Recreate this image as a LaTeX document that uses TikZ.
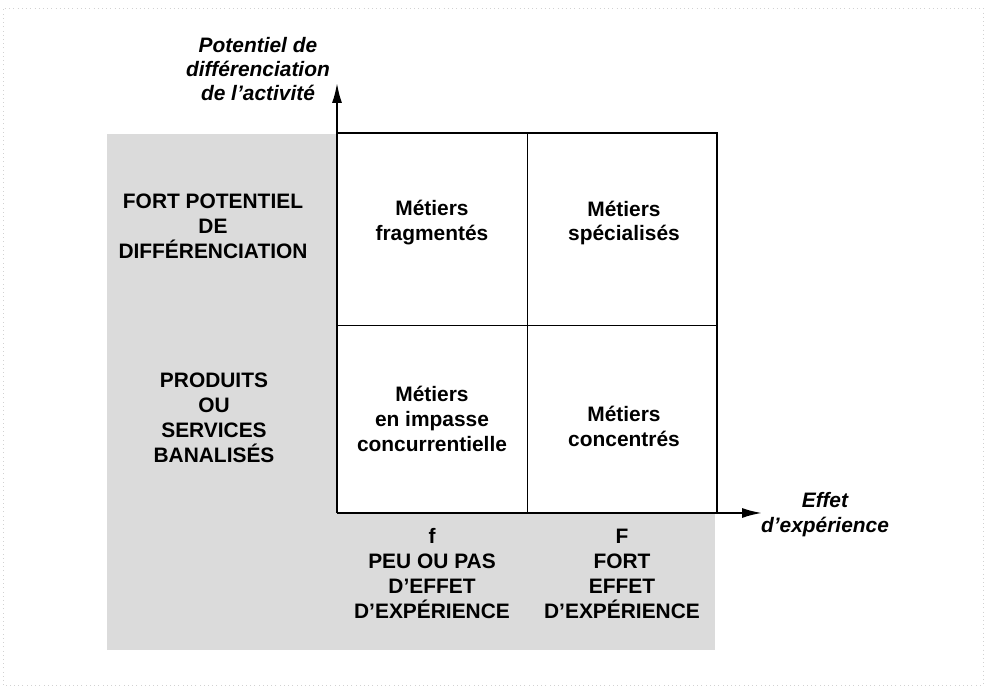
\documentclass[tikz,border=0pt]{standalone}
\usepackage{fontspec}
\setmainfont{Liberation Sans}
\usetikzlibrary{arrows.meta}

\begin{document}
\begin{tikzpicture}[
    txt/.style={font=\fontsize{11.9}{14.2}\selectfont\bfseries, align=center, inner sep=0pt},
    axtxt/.style={font=\fontsize{11.9}{13.8}\selectfont\bfseries\itshape, align=center, inner sep=0pt}
  ]

    \useasboundingbox (0,0) rectangle (19.72,13.72);

    % Faint frame of the scan
    \draw[gray!35, dotted, line width=0.4pt] (0.06,0.02) rectangle (19.66,13.56);

    % Define the corners of the grid
    \coordinate (O) at (6.74,3.46);
    \coordinate (M) at (10.54,7.22);
    \coordinate (T) at (14.34,11.06);
    \coordinate (Ytip) at (6.74,12.06);
    \coordinate (Xtip) at (15.24,3.46);

    % Draw the shaded band
    \fill[black!14] (2.14,0.72) rectangle (14.30,11.04);

    % Draw the white grid
    \fill[white] (O) rectangle (T);
    \draw[line width=0.5pt] (O -| M) -- (T -| M);
    \draw[line width=0.5pt] (O |- M) -- (T |- M);
    \draw[line width=1pt] (O |- T) -- (T) -- (T |- O);

    % Draw the axes
    \draw[line width=1.1pt, -{Latex[length=4mm,width=2mm]}] (O) -- (Ytip);
    \draw[line width=1.1pt, -{Latex[length=4mm,width=2mm]}] (O) -- (Xtip);

    % Add the axis labels
    \node[axtxt] (yaxis) at (5.16,12.34) {Potentiel de\\différenciation\\de l’activité};
    \node[axtxt] (xaxis) at (16.50,3.43) {Effet\\d’expérience};

    % Add the row labels
    \node[txt] (fortpot) at (4.26,9.20) {FORT POTENTIEL\\DE\\DIFFÉRENCIATION};
    \node[txt] (banal) at (4.28,5.36) {PRODUITS\\OU\\SERVICES\\BANALISÉS};

    % Add the column labels
    \node[txt] (faible) at (8.64,2.25) {f\\PEU OU PAS\\D’EFFET\\D’EXPÉRIENCE};
    \node[txt] (fort) at (12.44,2.25) {F\\FORT\\EFFET\\D’EXPÉRIENCE};

    % Add the quadrant labels
    \node[txt] (frag) at (8.64,9.26) {Métiers\\fragmentés};
    \node[txt] (spec) at (12.48,9.26) {Métiers\\spécialisés};
    \node[txt] (impasse) at (8.64,5.34) {Métiers\\en impasse\\concurrentielle};
    \node[txt] (conc) at (12.48,5.19) {Métiers\\concentrés};

\end{tikzpicture}
\end{document}
